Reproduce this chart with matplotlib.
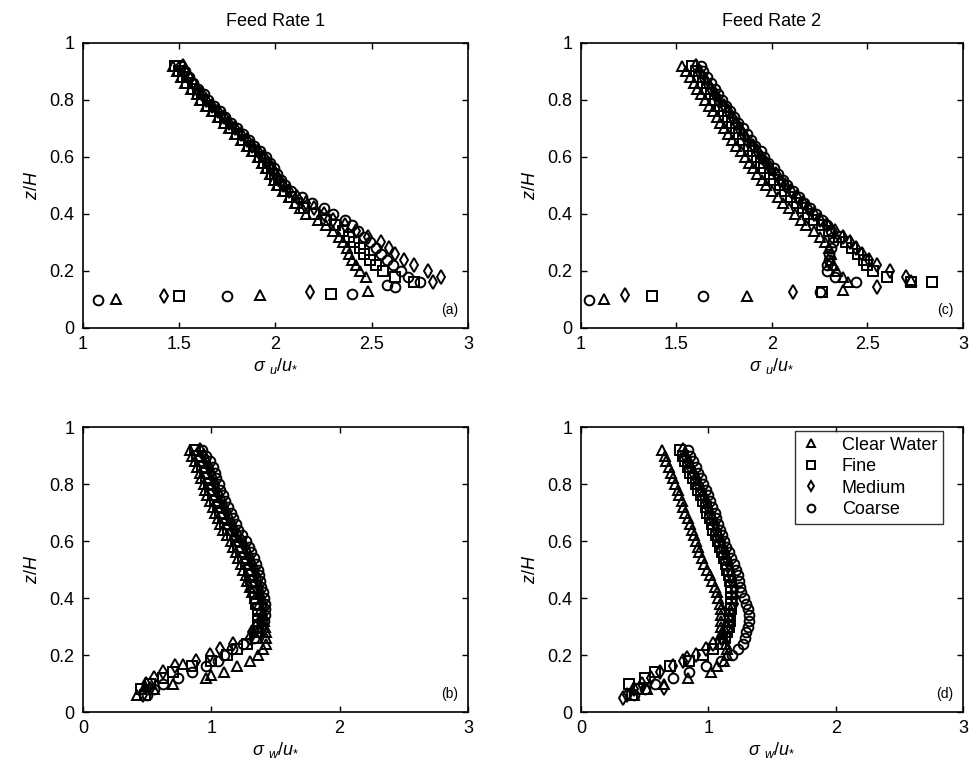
import numpy as np
import matplotlib.pyplot as plt

plt.rcParams['font.family'] = ['Liberation Sans', 'DejaVu Sans']
plt.rcParams['mathtext.fontset'] = 'custom'
plt.rcParams['mathtext.rm'] = 'Liberation Sans'
plt.rcParams['mathtext.it'] = 'Liberation Sans:italic'
plt.rcParams['mathtext.sf'] = 'Liberation Sans'

# ---------------------------------------------------------------
# data
# ---------------------------------------------------------------
series_names = ['Clear Water', 'Fine', 'Medium', 'Coarse']
series_markers = ['^', 's', 'd', 'o']

# measurement heights z/H, shared by every profile
z_levels = [0.92, 0.90, 0.88, 0.86, 0.84, 0.82, 0.80, 0.78, 0.76, 0.74,
            0.72, 0.70, 0.68, 0.66, 0.64, 0.62, 0.60, 0.58, 0.56, 0.54,
            0.52, 0.50, 0.48, 0.46, 0.44, 0.42, 0.40, 0.38, 0.36, 0.34,
            0.32, 0.30, 0.28, 0.26, 0.24, 0.22, 0.20, 0.18, 0.16, 0.14,
            0.12, 0.10, 0.08, 0.06]

# (a) sigma_u/u*, feed rate 1
a_tri = [1.47, 1.49, 1.51, 1.53, 1.56, 1.59, 1.61, 1.64, 1.67, 1.70,
         1.73, 1.76, 1.79, 1.82, 1.85, 1.88, 1.91, 1.93, 1.95, 1.97,
         1.99, 2.01, 2.04, 2.07, 2.10, 2.13, 2.16, 2.22, 2.26, 2.30,
         2.33, 2.35, 2.37, 2.38, 2.40, 2.42, 2.44, 2.47]
a_sq = [1.48, 1.50, 1.52, 1.54, 1.57, 1.60, 1.62, 1.65, 1.68, 1.71,
        1.74, 1.77, 1.80, 1.83, 1.86, 1.89, 1.92, 1.94, 1.96, 1.98,
        2.00, 2.02, 2.05, 2.08, 2.11, 2.15, 2.20, 2.26, 2.31, 2.35,
        2.38, 2.41, 2.44, 2.46, 2.49, 2.52, 2.56, 2.62, 2.72]
a_dia = [1.52, 1.53, 1.55, 1.57, 1.59, 1.62, 1.64, 1.67, 1.70, 1.73,
         1.76, 1.79, 1.82, 1.85, 1.88, 1.91, 1.94, 1.96, 1.98, 2.00,
         2.02, 2.04, 2.07, 2.11, 2.16, 2.20, 2.25, 2.30, 2.36, 2.42,
         2.48, 2.55, 2.59, 2.62, 2.67, 2.72, 2.79, 2.86, 2.82]
a_circ = [1.51, 1.53, 1.55, 1.57, 1.60, 1.63, 1.65, 1.68, 1.71, 1.74,
          1.77, 1.80, 1.83, 1.86, 1.89, 1.92, 1.95, 1.97, 1.99, 2.01,
          2.03, 2.05, 2.08, 2.14, 2.19, 2.25, 2.30, 2.36, 2.40, 2.43,
          2.46, 2.49, 2.52, 2.55, 2.58, 2.61, 2.65, 2.69, 2.75]
a_tri_extra_x, a_tri_extra_z = [2.48, 1.92, 1.17], [0.13, 0.115, 0.10]
a_sq_extra_x, a_sq_extra_z = [2.29, 1.50], [0.12, 0.112]
a_dia_extra_x, a_dia_extra_z = [2.18, 1.42], [0.127, 0.112]
a_circ_extra_x = [2.62, 2.58, 2.40, 1.75, 1.08]
a_circ_extra_z = [0.145, 0.15, 0.12, 0.112, 0.098]

# (c) sigma_u/u*, feed rate 2
c_tri = [1.53, 1.55, 1.57, 1.59, 1.61, 1.63, 1.65, 1.67, 1.69, 1.71,
         1.73, 1.75, 1.77, 1.79, 1.81, 1.84, 1.86, 1.88, 1.90, 1.92,
         1.95, 1.97, 2.00, 2.03, 2.06, 2.09, 2.12, 2.15, 2.18, 2.22,
         2.25, 2.28, 2.30, 2.31, 2.31, 2.32, 2.34, 2.37, 2.40]
c_sq = [1.58, 1.60, 1.62, 1.64, 1.66, 1.68, 1.70, 1.73, 1.75, 1.77,
        1.79, 1.81, 1.83, 1.85, 1.88, 1.90, 1.92, 1.94, 1.96, 1.99,
        2.01, 2.04, 2.07, 2.10, 2.13, 2.16, 2.19, 2.22, 2.26, 2.30,
        2.35, 2.39, 2.42, 2.45, 2.48, 2.50, 2.53, 2.60, 2.73]
c_dia = [1.60, 1.62, 1.64, 1.66, 1.68, 1.70, 1.72, 1.75, 1.77, 1.79,
         1.81, 1.83, 1.85, 1.87, 1.90, 1.92, 1.94, 1.97, 1.99, 2.02,
         2.04, 2.07, 2.10, 2.13, 2.16, 2.19, 2.22, 2.25, 2.29, 2.33,
         2.37, 2.41, 2.44, 2.47, 2.51, 2.55, 2.62, 2.70]
c_circ = [1.63, 1.64, 1.66, 1.68, 1.70, 1.72, 1.74, 1.76, 1.78, 1.80,
          1.82, 1.85, 1.87, 1.89, 1.91, 1.94, 1.96, 1.98, 2.01, 2.03,
          2.06, 2.08, 2.11, 2.14, 2.17, 2.20, 2.23, 2.26, 2.29, 2.31,
          2.32, 2.32, 2.31, 2.30, 2.30, 2.29, 2.29, 2.33, 2.44]
c_tri_extra_x, c_tri_extra_z = [2.37, 2.73, 1.87, 1.12], [0.135, 0.17, 0.112, 0.10]
c_sq_extra_x, c_sq_extra_z = [2.84, 2.26, 1.37], [0.163, 0.127, 0.112]
c_dia_extra_x, c_dia_extra_z = [2.55, 2.11, 1.23], [0.145, 0.127, 0.115]
c_circ_extra_x, c_circ_extra_z = [2.25, 1.64, 1.04], [0.127, 0.112, 0.098]

# (b) sigma_w/u*, feed rate 1
b_tri = [0.83, 0.85, 0.87, 0.89, 0.91, 0.92, 0.94, 0.95, 0.97, 0.99,
         1.01, 1.03, 1.05, 1.07, 1.09, 1.12, 1.15, 1.17, 1.19, 1.21,
         1.23, 1.25, 1.27, 1.28, 1.30, 1.32, 1.34, 1.37, 1.39, 1.40,
         1.41, 1.42, 1.43, 1.43, 1.43, 1.40, 1.36, 1.30, 1.20, 1.10,
         0.96, 0.70, 0.55, 0.42]
b_sq = [0.87, 0.89, 0.91, 0.93, 0.95, 0.96, 0.98, 0.99, 1.01, 1.03,
        1.05, 1.07, 1.09, 1.11, 1.13, 1.16, 1.19, 1.21, 1.23, 1.25,
        1.27, 1.29, 1.30, 1.31, 1.32, 1.33, 1.34, 1.35, 1.36, 1.36,
        1.36, 1.36, 1.35, 1.35, 1.28, 1.20, 1.12, 1.00, 0.85, 0.70,
        0.62, 0.52, 0.45, 0.48]
b_dia = [0.91, 0.94, 0.96, 0.98, 1.00, 1.01, 1.03, 1.04, 1.06, 1.08,
         1.10, 1.12, 1.14, 1.16, 1.18, 1.21, 1.24, 1.26, 1.28, 1.30,
         1.32, 1.34, 1.35, 1.36, 1.37, 1.38, 1.39, 1.40, 1.41, 1.40,
         1.38, 1.35, 1.32, 1.30, 1.17, 1.07, 0.99, 0.88, 0.72, 0.62,
         0.55, 0.49, 0.52, 0.47]
b_circ = [0.93, 0.96, 0.99, 1.01, 1.03, 1.04, 1.06, 1.07, 1.09, 1.11,
          1.13, 1.15, 1.17, 1.19, 1.21, 1.24, 1.27, 1.29, 1.31, 1.33,
          1.35, 1.36, 1.37, 1.38, 1.39, 1.40, 1.41, 1.42, 1.42, 1.42,
          1.41, 1.39, 1.37, 1.33, 1.25, 1.16, 1.10, 1.05, 0.96, 0.85,
          0.74, 0.62, 0.55, 0.50]
b_tri_extra_x, b_tri_extra_z = [0.78, 1.00, 0.48], [0.17, 0.13, 0.09]

# (d) sigma_w/u*, feed rate 2
d_tri = [0.64, 0.66, 0.67, 0.69, 0.71, 0.72, 0.74, 0.76, 0.77, 0.79,
         0.80, 0.82, 0.84, 0.86, 0.87, 0.89, 0.90, 0.92, 0.93, 0.95,
         0.97, 0.99, 1.01, 1.03, 1.05, 1.07, 1.08, 1.09, 1.10, 1.10,
         1.10, 1.10, 1.11, 1.12, 1.14, 1.15, 1.15, 1.12, 1.07, 1.02,
         0.84, 0.65, 0.52, 0.42]
d_sq = [0.78, 0.80, 0.82, 0.84, 0.86, 0.88, 0.90, 0.92, 0.94, 0.96,
        0.98, 0.99, 1.01, 1.03, 1.04, 1.06, 1.08, 1.09, 1.11, 1.12,
        1.14, 1.15, 1.16, 1.17, 1.18, 1.18, 1.18, 1.18, 1.18, 1.17,
        1.17, 1.16, 1.15, 1.13, 1.10, 1.04, 0.96, 0.85, 0.70, 0.58,
        0.50, 0.38, 0.45, 0.40]
d_dia = [0.80, 0.82, 0.84, 0.86, 0.88, 0.90, 0.92, 0.94, 0.96, 0.98,
         1.00, 1.01, 1.03, 1.05, 1.06, 1.08, 1.10, 1.11, 1.13, 1.14,
         1.16, 1.17, 1.18, 1.19, 1.20, 1.20, 1.20, 1.20, 1.19, 1.18,
         1.17, 1.15, 1.13, 1.10, 1.04, 0.98, 0.90, 0.80, 0.72, 0.62,
         0.55, 0.48, 0.42, 0.36]
d_circ = [0.84, 0.86, 0.88, 0.90, 0.92, 0.94, 0.96, 0.98, 1.00, 1.01,
          1.03, 1.05, 1.06, 1.08, 1.09, 1.11, 1.12, 1.14, 1.16, 1.18,
          1.20, 1.22, 1.23, 1.24, 1.25, 1.26, 1.28, 1.30, 1.31, 1.32,
          1.32, 1.31, 1.30, 1.29, 1.27, 1.23, 1.19, 1.10, 0.98, 0.85,
          0.72, 0.58, 0.50, 0.42]
d_dia_extra_x, d_dia_extra_z = [0.65, 0.33, 0.83], [0.083, 0.048, 0.19]

z_ticks = [0, 0.2, 0.4, 0.6, 0.8, 1]
z_tick_labels = ['0', '0.2', '0.4', '0.6', '0.8', '1']
u_ticks = [1, 1.5, 2, 2.5, 3]
u_tick_labels = ['1', '1.5', '2', '2.5', '3']
w_ticks = [0, 1, 2, 3]
w_tick_labels = ['0', '1', '2', '3']

# ---------------------------------------------------------------
# figure
# ---------------------------------------------------------------
fig = plt.figure(figsize=(9.72, 7.73), dpi=100)
ax_a = fig.add_axes([0.0854, 0.5757, 0.396, 0.3687])
ax_c = fig.add_axes([0.5977, 0.5757, 0.393, 0.3687])
ax_b = fig.add_axes([0.0854, 0.0789, 0.396, 0.3687])
ax_d = fig.add_axes([0.5977, 0.0789, 0.393, 0.3687])


def profile(ax, xs, extra_x, extra_z, marker, label=None):
    x = list(xs) + list(extra_x)
    z = list(z_levels[:len(xs)]) + list(extra_z)
    return ax.plot(x, z, linestyle='none', marker=marker, ms=7,
                   mfc='none', mec='black', mew=1.4, label=label)[0]


panels = [
    (ax_a, [a_tri, a_sq, a_dia, a_circ],
     [(a_tri_extra_x, a_tri_extra_z), (a_sq_extra_x, a_sq_extra_z),
      (a_dia_extra_x, a_dia_extra_z), (a_circ_extra_x, a_circ_extra_z)]),
    (ax_c, [c_tri, c_sq, c_dia, c_circ],
     [(c_tri_extra_x, c_tri_extra_z), (c_sq_extra_x, c_sq_extra_z),
      (c_dia_extra_x, c_dia_extra_z), (c_circ_extra_x, c_circ_extra_z)]),
    (ax_b, [b_tri, b_sq, b_dia, b_circ],
     [(b_tri_extra_x, b_tri_extra_z), ([], []), ([], []), ([], [])]),
    (ax_d, [d_tri, d_sq, d_dia, d_circ],
     [([], []), ([], []), (d_dia_extra_x, d_dia_extra_z), ([], [])]),
]

handles = []
for ax, profiles, extras in panels:
    handles = []
    for xs, (ex, ez), mk, name in zip(profiles, extras, series_markers, series_names):
        handles.append(profile(ax, xs, ex, ez, mk, name))

for ax in (ax_a, ax_b, ax_c, ax_d):
    ax.set_ylim(0, 1)
    ax.set_yticks(z_ticks)
    ax.set_yticklabels(z_tick_labels)
    ax.set_ylabel('$z/H$', fontsize=13, labelpad=6)
    ax.tick_params(direction='in', top=True, right=True, length=4,
                   width=1, labelsize=13, pad=6)
    for sp in ax.spines.values():
        sp.set_linewidth(1.2)

for ax in (ax_a, ax_c):
    ax.set_xlim(1, 3)
    ax.set_xticks(u_ticks)
    ax.set_xticklabels(u_tick_labels)
    ax.set_xlabel(r'$\sigma\ _{u}/u_{*}$', fontsize=13, labelpad=2)

for ax in (ax_b, ax_d):
    ax.set_xlim(0, 3)
    ax.set_xticks(w_ticks)
    ax.set_xticklabels(w_tick_labels)
    ax.set_xlabel(r'$\sigma\ _{w}/u_{*}$', fontsize=13, labelpad=2)

ax_a.set_title('Feed Rate 1', fontsize=13, pad=12)
ax_c.set_title('Feed Rate 2', fontsize=13, pad=12)

for ax, tag in ((ax_a, '(a)'), (ax_b, '(b)'), (ax_c, '(c)'), (ax_d, '(d)')):
    ax.text(0.975, 0.04, tag, transform=ax.transAxes, ha='right',
            va='bottom', fontsize=10)

leg = ax_d.legend(handles=handles, loc='upper right',
                  bbox_to_anchor=(0.947, 0.985), fontsize=13,
                  frameon=True, fancybox=False, edgecolor='black',
                  handlelength=1.2, handletextpad=1.1, borderpad=0.3,
                  labelspacing=0.25, borderaxespad=0, markerscale=0.8)
leg.get_frame().set_linewidth(1.0)

fig.savefig('out.png', dpi=100)
